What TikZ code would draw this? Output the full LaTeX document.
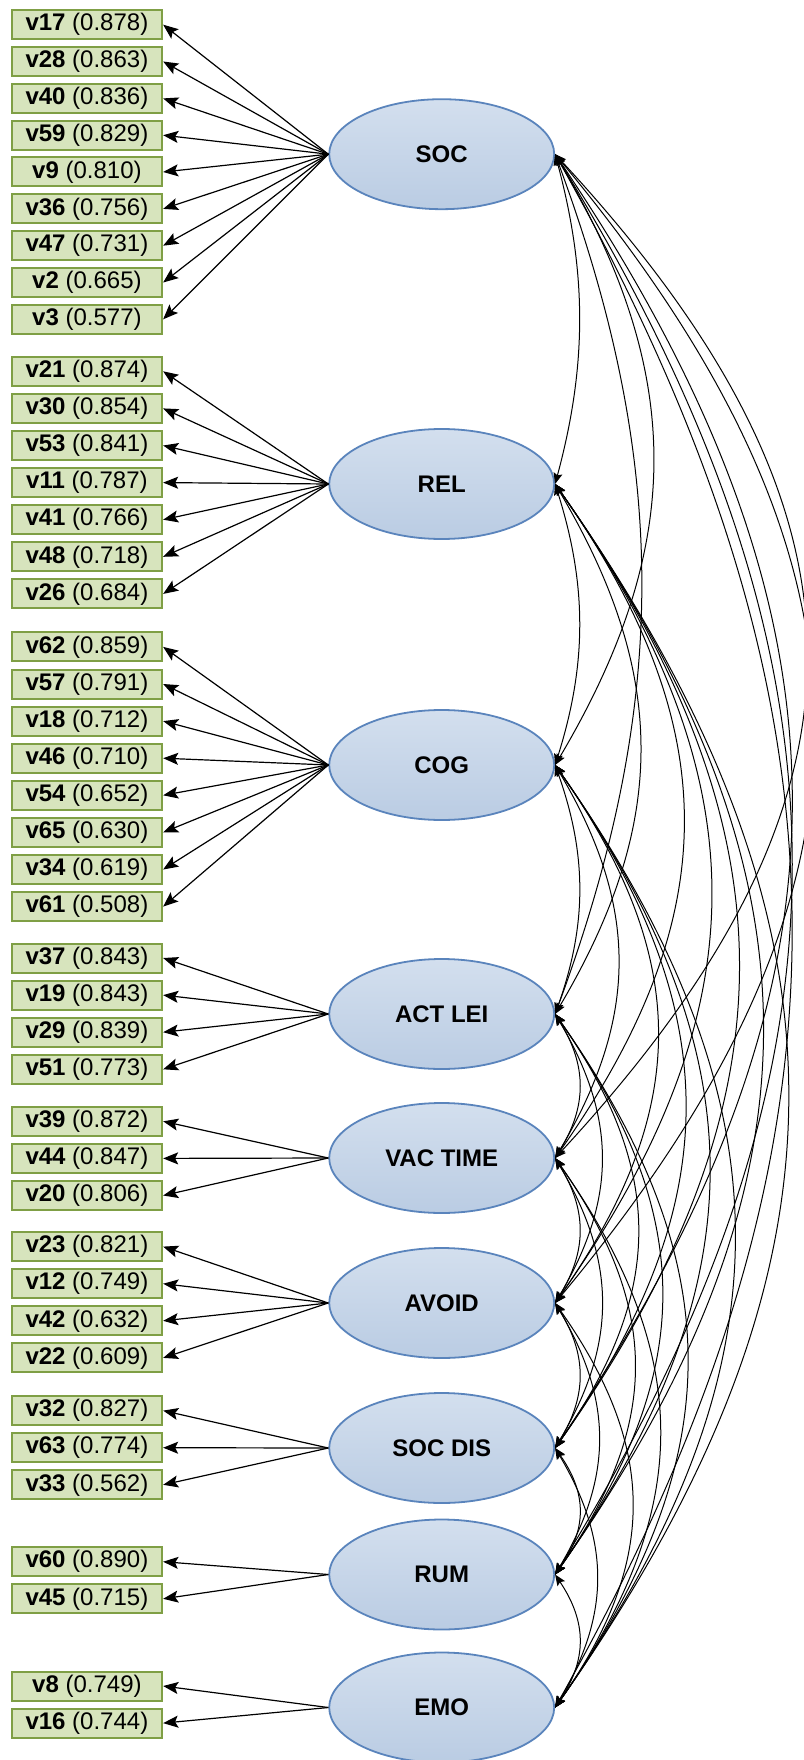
\documentclass[tikz,border=0pt]{standalone}
\usepackage{fontspec}
\setmainfont{Liberation Sans}
\usetikzlibrary{arrows.meta,shapes.geometric}

\definecolor{indfill}{HTML}{D7E4BD}
\definecolor{inddraw}{HTML}{7F9F45}
\definecolor{lattop}{HTML}{D3DFEE}
\definecolor{latbot}{HTML}{BACCE3}
\definecolor{latdraw}{HTML}{5A84BC}

\tikzset{
  indicator/.style={draw=inddraw, fill=indfill, line width=2pt,
    minimum width=150.5pt, minimum height=29pt, inner sep=0pt,
    font=\fontsize{24}{28}\selectfont},
  latent/.style={ellipse, draw=latdraw, line width=1.8pt,
    top color=lattop, bottom color=latbot,
    minimum width=225pt, minimum height=110pt, inner sep=0pt,
    font=\fontsize{24}{28}\selectfont\bfseries},
  loading/.style={line width=1.2pt, -{Stealth[length=15pt,width=12pt,inset=3pt]}},
  covar/.style={line width=1pt,
    {Stealth[length=11pt,width=9pt,inset=2pt]}-{Stealth[length=11pt,width=9pt,inset=2pt]}}
}

\begin{document}
\begin{tikzpicture}[x=1pt,y=-1pt]
\useasboundingbox (0,0) rectangle (803,1760);

% latent factors, right-hand column
\foreach \n/\lab/\y in {1/SOC/154.2, 2/REL/484, 3/COG/765, 4/ACT LEI/1014,
    5/VAC TIME/1158, 6/AVOID/1303, 7/SOC DIS/1448, 8/RUM/1574.5, 9/EMO/1707.5}
  \node[latent] (f\n) at (441.7,\y) {\lab};

% observed indicators with standardized loadings
\foreach \v/\val/\y in {
    v17/0.878/24.7, v28/0.863/61.5, v40/0.836/98.4, v59/0.829/135.2,
    v9/0.810/172.0, v36/0.756/208.9, v47/0.731/245.7, v2/0.665/282.5, v3/0.577/319.3,
    v21/0.874/371.3, v30/0.854/408.4, v53/0.841/445.5, v11/0.787/482.6,
    v41/0.766/519.7, v48/0.718/556.8, v26/0.684/593.9,
    v62/0.859/646.9, v57/0.791/684.0, v18/0.712/721.1, v46/0.710/758.2,
    v54/0.652/795.3, v65/0.630/832.4, v34/0.619/869.5, v61/0.508/906.6,
    v37/0.843/958.0, v19/0.843/995.1, v29/0.839/1032.2, v51/0.773/1069.3,
    v39/0.872/1121.3, v44/0.847/1158.4, v20/0.806/1195.5,
    v23/0.821/1246.6, v12/0.749/1283.7, v42/0.632/1320.8, v22/0.609/1357.9,
    v32/0.827/1410.6, v63/0.774/1447.7, v33/0.562/1484.8,
    v60/0.890/1561.7, v45/0.715/1598.8,
    v8/0.749/1686.0, v16/0.744/1723.1}
  \node[indicator] (\v) at (86.9,\y) {\textbf{\v} (\val)};

% factor loadings
\foreach \f/\items in {
    1/{v17,v28,v40,v59,v9,v36,v47,v2,v3},
    2/{v21,v30,v53,v11,v41,v48,v26},
    3/{v62,v57,v18,v46,v54,v65,v34,v61},
    4/{v37,v19,v29,v51},
    5/{v39,v44,v20},
    6/{v23,v12,v42,v22},
    7/{v32,v63,v33},
    8/{v60,v45},
    9/{v8,v16}}
  \foreach \v in \items
    \draw[loading] (f\f.west) -- (\v.east);

% factor covariances: one arc for every pair of factors
\def\facy{{154.2,484,765,1014,1158,1303,1448,1574.5,1707.5}}
\foreach \i in {1,...,8} {
  \pgfmathtruncatemacro{\nxt}{\i+1}
  \foreach \j in {\nxt,...,9} {
    \pgfmathtruncatemacro{\span}{\j-\i}
    \pgfmathsetmacro{\dist}{\facy[\j-1]-\facy[\i-1]}
    \pgfmathsetmacro{\bulge}{\span==1 ? 24 : (\span==2 ? 0.16*\dist :
        (\span==3 ? (\i==1 ? 0.1*\dist : 0.19*\dist) :
        (\i==1 ? (\dist<1200 ? min(0.25*\dist,258) : 236) : 0.19*\dist)))}
    \pgfmathsetmacro{\ca}{4*\bulge/3}
    \pgfmathsetmacro{\cb}{0.36*\dist}
    \draw[covar] (f\i.east) .. controls +(\ca,\cb) and +(\ca,-\cb) .. (f\j.east);
  }
}
\end{tikzpicture}
\end{document}
